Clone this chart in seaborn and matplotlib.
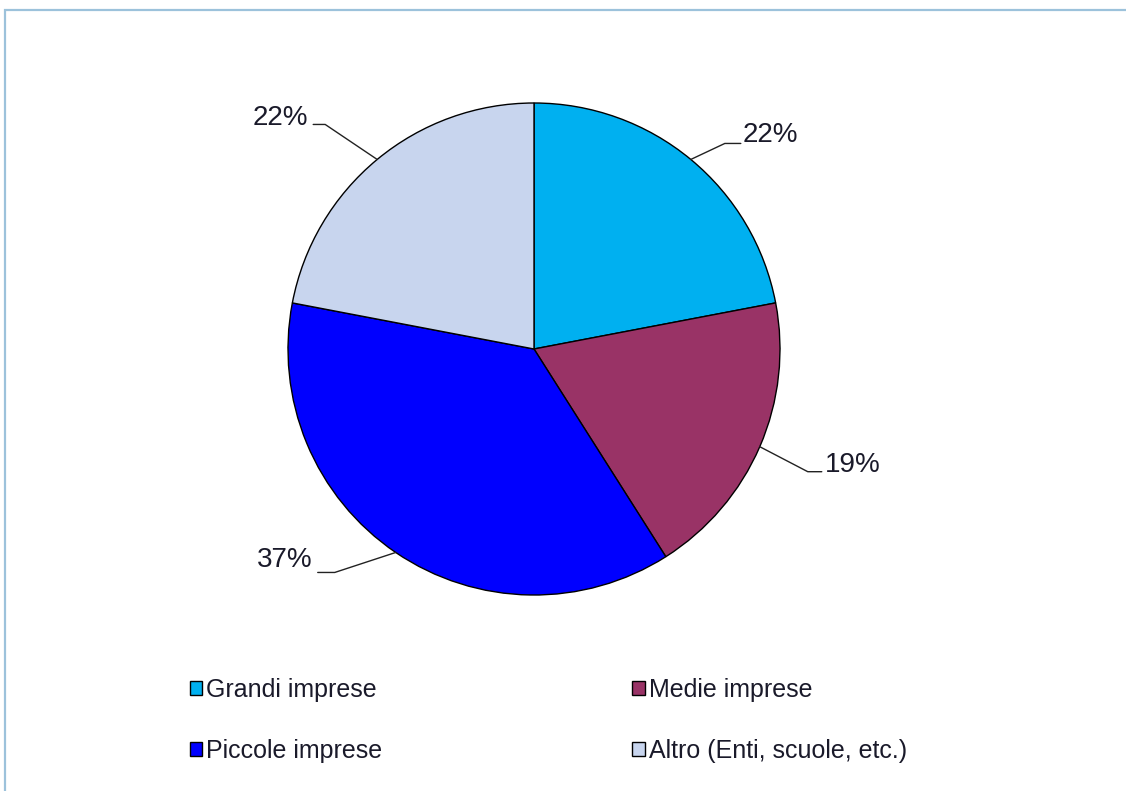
import numpy as np
import matplotlib
matplotlib.use("Agg")
import matplotlib.pyplot as plt
from matplotlib.patches import Rectangle
import seaborn as sns

categories = ["Grandi imprese", "Medie imprese", "Piccole imprese", "Altro (Enti, scuole, etc.)"]
values = [22, 19, 37, 22]
labels = ["22%", "19%", "37%", "22%"]
colors = ["#00B0F0", "#993366", "#0000FF", "#C8D5EE"]

sns.set_theme(style="white")
plt.rcParams["font.family"] = ["Liberation Sans", "DejaVu Sans"]

W, H = 1126, 791
fig = plt.figure(figsize=(W / 100, H / 100), dpi=100)
fig.patch.set_facecolor("white")
ax = fig.add_axes([0, 0, 1, 1])

def py(y):
    return H - y

cx, cy, R = 534, 349, 246
wedges, _ = ax.pie(values, colors=colors, startangle=90, counterclock=False,
                   center=(cx, py(cy)), radius=R,
                   wedgeprops=dict(edgecolor="black", linewidth=1.0))
ax.set_xlim(0, W)
ax.set_ylim(0, H)
ax.set_aspect("auto")
ax.axis("off")

# leader-line layout (pixel offsets, y downwards): elbow, end, text offset, ha
layout = [
    ((34, -16), (50, -16), (2, -8), "left"),
    ((48, 25), (62, 25), (3, -7), "left"),
    ((-61, 20), (-78, 20), (-5, -12), "right"),
    ((-52, -35), (-64, -35), (-5, -6), "right"),
]
for w, lab, (el, en, to, ha) in zip(wedges, labels, layout):
    mid = np.deg2rad((w.theta1 + w.theta2) / 2)
    ex = cx + R * np.cos(mid)
    ey = cy - R * np.sin(mid)
    xs = [ex, ex + el[0], ex + en[0]]
    ys = [ey, ey + el[1], ey + en[1]]
    ax.plot(xs, [py(v) for v in ys], color="#222222", lw=1.0)
    ax.text(ex + en[0] + to[0], py(ey + en[1] + to[1]), lab, ha=ha, va="center",
            fontsize=20, color="#1a1a2a")

# legend filled row by row: Grandi, Medie / Piccole, Altro
order = [0, 2, 1, 3]
leg = fig.legend([wedges[i] for i in order], [categories[i] for i in order], ncol=2,
                 loc="upper left", bbox_to_anchor=(190 / W, 1 - 678 / H), frameon=False,
                 fontsize=18, handlelength=0.5, handleheight=0.5,
                 handletextpad=0.15, columnspacing=10.0, labelspacing=1.48,
                 borderpad=0, borderaxespad=0)
for h in leg.legend_handles:
    h.set_edgecolor("black")
    h.set_linewidth(1.0)
for t in leg.get_texts():
    t.set_color("#1a1a2a")

# outer frame (top and left border visible)
fig.patches.append(Rectangle((5 / W, -0.1), 1.2, 1 - 10 / H + 0.1, transform=fig.transFigure,
                             fill=False, edgecolor="#9CC2DB", linewidth=1.6, zorder=10))

fig.savefig("out.png", dpi=100, facecolor="white")
